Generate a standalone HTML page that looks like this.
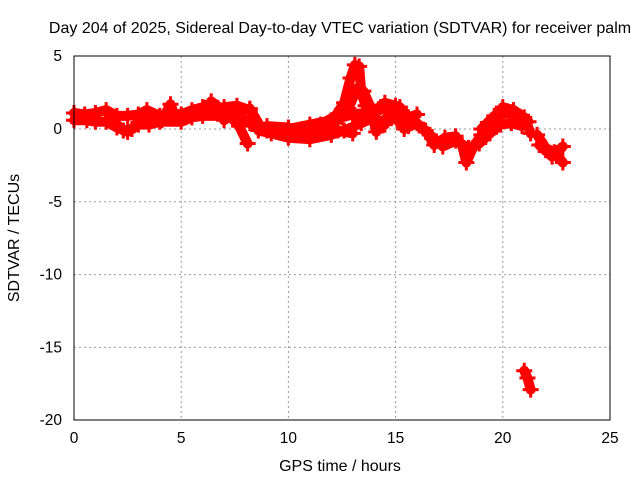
<!DOCTYPE html>
<html><head><meta charset="utf-8"><style>
body{margin:0;background:#fff}
svg{display:block;font-family:"Liberation Sans",sans-serif;font-size:15.5px}
</style></head><body>
<svg id="c" width="640" height="480">
<text x="340" y="33" text-anchor="middle" font-size="16">Day 204 of 2025, Sidereal Day-to-day VTEC variation (SDTVAR) for receiver palm</text>
<text x="340" y="471" text-anchor="middle" font-size="16">GPS time / hours</text>
<text transform="translate(19,238) rotate(-90)" text-anchor="middle" font-size="16">SDTVAR / TECUs</text>
<g id="grid"></g><g id="ticks"></g><g id="marks"></g>
<rect x="74" y="56" width="536" height="364" fill="none" stroke="#000" stroke-width="1"/>
</svg>
<script>
const xTicks=[0,5,10,15,20,25];
const yTicks=[5,0,-5,-10,-15,-20];
const trace1=[[0,1.1],[0.5,1.0],[1,1.1],[1.5,1.3],[2,0.9],[2.5,0.9],[3,1.0],[3.4,1.3],[4,0.9],[4.5,1.1],[5,1.0],[5.5,1.3],[6,1.5],[6.5,1.4],[7,1.5],[7.6,1.6],[8.2,1.3]];
const trace2=[[0,0.6],[0.6,0.6],[1,0.5],[1.5,0.5],[2,0.1],[2.5,-0.2],[3,0.3],[3.5,0.3],[4,0.5],[5,0.5],[5.5,0.8],[6,0.9],[7,0.9],[7.6,1.1],[8.2,0.4],[8.6,0.0],[9,-0.1],[10,0.0],[11,0.3],[12,0.6],[12.5,0.8],[13,1.0],[14,1.2]];
const trace2b=[[1.6,0.7],[2,0.3],[2.3,-0.1],[2.7,0.0],[3.1,0.6],[3.5,0.6],[4.1,0.6],[4.5,1.7],[4.7,0.9],[5.2,0.8],[6,1.1],[6.7,1.1]];
const trace3=[[6.4,1.9],[7.2,1.0],[7.7,0.2],[8.1,-1.0]];
const trace3b=[[7.0,0.6],[7.6,1.2],[8.2,1.4],[8.6,0.4]];
const trace4=[[8.6,-0.1],[9.2,-0.3],[10,-0.6],[11,-0.7],[12,-0.4],[12.6,-0.1],[13.4,0.4],[14,0.8],[14.5,0.3]];
const trace4b=[[9,0.2],[10,0.1],[10.6,-0.2],[11.2,0.0],[12.3,-0.1],[13,-0.3]];
const trace5=[[11.5,0.3],[12.2,0.9],[12.6,1.8],[12.9,3.5],[13.1,4.4],[13.3,4.3],[13.4,2.5],[13.6,1.6],[14,1.2],[14.5,1.8],[15,1.6],[15.3,0.9],[15.6,0.2]];
const trace6=[[12.2,0.5],[12.8,1.4],[13.2,2.8],[13.5,2.6],[13.8,1.6],[14.1,-0.2],[14.6,0.8],[15.1,0.6],[15.4,0.0],[16,0.4],[16.4,-0.2]];
const trace6b=[[13.3,0.6],[13.8,1.0],[14.3,1.5],[14.8,1.1],[15.2,1.5],[15.6,0.8],[16.0,1.0]];
const trace7=[[16.4,-0.1],[16.8,-1.1],[17.3,-0.6],[17.8,-0.5],[18.1,-1.1],[18.3,-2.3],[18.6,-1.3],[19,-0.4],[19.5,0.6],[20,1.5],[20.5,1.3],[21,0.8],[21.3,-0.3]];
const trace7b=[[16.6,-0.4],[17.2,-1.2],[17.8,-0.8],[18.4,-1.3],[18.9,-1.0],[19.4,-0.3],[19.9,0.3],[20.4,0.4],[20.9,0.2]];
const trace8=[[19,0.0],[19.6,0.9],[20.3,1.1],[20.8,0.6],[21.2,0.5]];
const trace9=[[21.6,-0.4],[22.0,-1.3],[22.4,-1.6],[22.8,-2.3]];
const trace10=[[21.7,-1.1],[22.3,-1.9],[22.8,-1.2]];
const trace11=[[21.0,-16.6],[21.15,-17.1],[21.3,-17.9]];
const traces=[trace1,trace2,trace2b,trace3,trace3b,trace4,trace4b,trace5,trace6,trace6b,trace7,trace7b,trace8,trace9,trace10,trace11];
const X=h=>74+h*536/25, Y=v=>129-v*364/25;
const ns="http://www.w3.org/2000/svg";
const g=document.getElementById('grid'),tk=document.getElementById('ticks'),mk=document.getElementById('marks');
xTicks.forEach(t=>{
 if(t>0&&t<25){const l=document.createElementNS(ns,'line');
 
 
 l.setAttribute('x1',X(t));l.setAttribute('x2',X(t));l.setAttribute('y1',56);l.setAttribute('y2',420);
 l.setAttribute('stroke','#999');l.setAttribute('stroke-dasharray','2,3');g.appendChild(l);}
 const s=document.createElementNS(ns,'text');
 
 
 s.setAttribute('x',X(t));s.setAttribute('y',443);s.setAttribute('text-anchor','middle');s.textContent=t;tk.appendChild(s);
});
yTicks.forEach(t=>{
 if(t<5&&t>-20){const l=document.createElementNS(ns,'line');
 
 
 l.setAttribute('x1',74);l.setAttribute('x2',610);l.setAttribute('y1',Y(t));l.setAttribute('y2',Y(t));
 l.setAttribute('stroke','#999');l.setAttribute('stroke-dasharray','2,3');g.appendChild(l);}
 const s=document.createElementNS(ns,'text');
 
 
 s.setAttribute('x',62);s.setAttribute('y',Y(t)+5);s.setAttribute('text-anchor','end');s.textContent=t;tk.appendChild(s);
});
traces.forEach(tr=>{
 const p=document.createElementNS(ns,'polyline');
 
 
 p.setAttribute('points',tr.map(d=>X(d[0])+','+Y(d[1])).join(' '));
 p.setAttribute('fill','none');p.setAttribute('stroke','#f00');p.setAttribute('stroke-width','10');
 p.setAttribute('stroke-linejoin','round');p.setAttribute('stroke-linecap','round');mk.appendChild(p);
 tr.forEach(d=>{
  const m=document.createElementNS(ns,'path');
  
  
  const x=X(d[0]),y=Y(d[1]);
  m.setAttribute('d',`M${x-8},${y}H${x+8}M${x},${y-8}V${y+8}`);
  m.setAttribute('stroke','#f00');m.setAttribute('stroke-width','3');mk.appendChild(m);
 });
});
</script>
</body></html>
